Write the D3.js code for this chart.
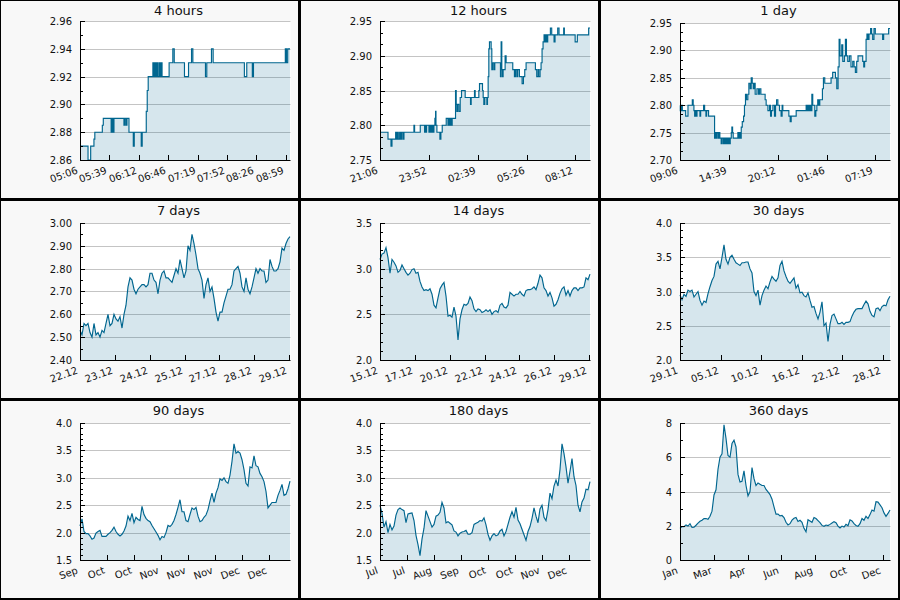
<!DOCTYPE html>
<html>
<head>
<meta charset="utf-8">
<script src="https://cdn.jsdelivr.net/npm/d3@7"></script>
<style>
body { margin: 0; background: #fff; }
svg { display: block; font-family: "DejaVu Sans", sans-serif; }
</style>
</head>
<body>
<svg id="chart" width="900" height="600"></svg>
<script>

// ---- data ----
// step series: change points, time in minutes from the window start
var hours4Times = [0, 9.1, 12.1, 15.8, 16.8, 25.3, 26.4, 35.3, 36.2, 37.5, 38.5, 49.8, 50.9, 52.3, 53.2, 55.5,
	60.4, 61.5, 69.4, 70.5, 75.1, 76.2, 77.3, 82.6, 83.8, 84.9, 86.2, 86.9, 88.1, 89.6, 90.7, 91.8, 93,
	101, 105.2, 106.8, 118.4, 123, 126.4, 127.9, 142.2, 143.7, 149, 150.9, 186.3, 189, 195.3, 196.6,
	232.7, 234, 235.4, 238];
var hours4Values = [2.87, 2.86, 2.87, 2.875, 2.88, 2.885, 2.89, 2.88, 2.89, 2.88, 2.89, 2.885, 2.89, 2.885, 2.89, 2.88,
	2.87, 2.88, 2.87, 2.88, 2.895, 2.91, 2.92, 2.93, 2.92, 2.93, 2.92, 2.93, 2.92, 2.93, 2.92, 2.93, 2.92,
	2.93, 2.94, 2.93, 2.92, 2.93, 2.94, 2.93, 2.92, 2.93, 2.94, 2.93, 2.92, 2.93, 2.92, 2.93,
	2.94, 2.93, 2.94, 2.94];
var hours4Labels = ["05:06", "05:39", "06:12", "06:46", "07:19", "07:52", "08:26", "08:59"];

var hours12Times = [0, 27.3, 37.5, 40.9, 53.4, 55.6, 59, 62.5, 67, 70.4, 73.8, 78.4, 81.8, 115.8, 118.1,
	137.4, 152.2, 154.5, 156.7, 159, 167, 169, 171, 174, 176, 179, 181, 184, 187.4, 189.7, 191, 194.2,
	204.4, 207.8, 212.4, 226, 232, 235, 238, 241, 244, 246.4, 257.8, 260.1, 262.3, 264.6, 269.2, 273.7,
	278.2, 290.7, 308.9, 311.2, 322.5, 324.8, 337.3, 339.6, 349.8, 352.1, 354.3, 357.7, 364.6, 366.8,
	369.1, 371.4, 373.6, 379.3, 381.6, 383.9, 388.4, 391.8, 411.1, 413.4, 415.7, 418, 420.2, 427, 430.4,
	453.1, 458.8, 462.2, 466.8, 470.2, 475.9, 485, 489.5, 494, 498.6, 530.4, 534.9, 539.5, 541.7, 546.3,
	549.7, 553.1, 556.5, 559.9, 563, 566, 569, 572.4, 581.5, 586, 594, 597.4, 606.5, 611, 626.9, 629.2,
	666, 673.5, 712.1, 716.7];
var hours12Values = [2.79, 2.78, 2.77, 2.78, 2.79, 2.78, 2.79, 2.78, 2.79, 2.78, 2.79, 2.78, 2.79, 2.80, 2.79,
	2.80, 2.79, 2.80, 2.79, 2.80, 2.79, 2.80, 2.79, 2.80, 2.79, 2.80, 2.79, 2.80, 2.81, 2.82, 2.80, 2.79,
	2.78, 2.79, 2.80, 2.81, 2.80, 2.81, 2.80, 2.81, 2.80, 2.81, 2.85, 2.83, 2.82, 2.83, 2.82, 2.84,
	2.85, 2.84, 2.83, 2.84, 2.85, 2.84, 2.85, 2.86, 2.85, 2.84, 2.83, 2.84, 2.83, 2.84,
	2.87, 2.91, 2.92, 2.91, 2.88, 2.89, 2.88, 2.89, 2.87, 2.92, 2.88, 2.87, 2.88, 2.90, 2.89,
	2.88, 2.87, 2.88, 2.87, 2.88, 2.87, 2.86, 2.87, 2.88, 2.89, 2.88, 2.87, 2.88, 2.87, 2.88,
	2.89, 2.91, 2.92, 2.93, 2.92, 2.93, 2.92, 2.93, 2.94, 2.93, 2.92, 2.93, 2.94, 2.93, 2.94, 2.93,
	2.92, 2.93, 2.94, 2.94];
var hours12Labels = ["21:06", "23:52", "02:39", "05:26", "08:12"];

var day1Times = [0, 2, 5, 8, 11, 16, 38.6, 54.5, 84, 90, 95, 100, 104, 109, 116, 136, 141, 161, 168, 177, 182, 195,
	236, 240, 247, 252, 261, 268, 272, 281, 286, 295, 302, 309, 316, 323, 330, 336, 343, 350, 354, 359, 363,
	395, 400, 405, 410, 418, 425, 434, 440, 447, 454, 463, 470, 479, 486, 493, 500, 506, 513, 525, 536, 543,
	552, 581, 588, 600, 611, 618, 624, 634, 645, 652, 659, 668, 679, 690, 697, 702, 743, 752, 759, 793,
	861, 866, 872, 879, 886, 893, 900, 906, 920, 927, 934, 940, 947, 954, 972, 979, 988, 1031, 1042, 1061,
	1070, 1079, 1086, 1092, 1104, 1111, 1122, 1129, 1136, 1145, 1156, 1167, 1179, 1188, 1197, 1206, 1215,
	1247, 1254, 1260, 1270, 1276, 1283, 1290, 1301, 1308, 1315, 1324, 1333, 1383, 1390, 1424, 1433.3];
var day1Values = [2.80, 2.79, 2.80, 2.79, 2.80, 2.79, 2.78, 2.80, 2.81, 2.80, 2.79, 2.78, 2.79, 2.78, 2.79, 2.78, 2.79, 2.80, 2.79, 2.78, 2.79, 2.78,
	2.74, 2.75, 2.74, 2.75, 2.74, 2.75, 2.74, 2.73, 2.74, 2.73, 2.74, 2.73, 2.74, 2.73, 2.74, 2.73, 2.74, 2.75, 2.76, 2.75, 2.74,
	2.75, 2.74, 2.75, 2.74, 2.76, 2.77, 2.78, 2.80, 2.82, 2.81, 2.82, 2.84, 2.83, 2.85, 2.84, 2.83, 2.84, 2.82, 2.83, 2.82, 2.83,
	2.82, 2.81, 2.80, 2.79, 2.80, 2.78, 2.79, 2.80, 2.78, 2.80, 2.81, 2.80, 2.79, 2.78, 2.80, 2.79, 2.78, 2.77, 2.78, 2.79,
	2.80, 2.79, 2.80, 2.79, 2.80, 2.79, 2.82, 2.80, 2.78, 2.79, 2.80, 2.81, 2.80, 2.81, 2.83, 2.85, 2.84, 2.85, 2.86, 2.85,
	2.83, 2.87, 2.92, 2.89, 2.91, 2.88, 2.89, 2.92, 2.89, 2.88, 2.89, 2.87, 2.88, 2.87, 2.86, 2.88, 2.89,
	2.88, 2.87, 2.88, 2.92, 2.93, 2.92, 2.93, 2.94, 2.93, 2.92, 2.94, 2.93, 2.92, 2.93, 2.94, 2.94];
var day1Labels = ["09:06", "14:39", "20:12", "01:46", "07:19"];

// evenly spaced series
var days7Values = [2.53, 2.51, 2.56, 2.55, 2.56, 2.52, 2.50, 2.56, 2.51, 2.52, 2.50, 2.53, 2.52, 2.56, 2.60, 2.55,
	2.56, 2.60, 2.58, 2.57, 2.59, 2.54, 2.60, 2.64, 2.72, 2.76, 2.75, 2.71, 2.69, 2.71, 2.72, 2.73,
	2.73, 2.72, 2.73, 2.78, 2.78, 2.75, 2.74, 2.69, 2.75, 2.78, 2.79, 2.76, 2.76, 2.75, 2.74, 2.77,
	2.80, 2.78, 2.84, 2.80, 2.76, 2.79, 2.90, 2.88, 2.95, 2.91, 2.86, 2.80, 2.78, 2.75, 2.67, 2.73,
	2.76, 2.70, 2.72, 2.67, 2.61, 2.57, 2.61, 2.61, 2.65, 2.68, 2.71, 2.71, 2.73, 2.79, 2.80, 2.81,
	2.78, 2.72, 2.70, 2.76, 2.71, 2.69, 2.72, 2.76, 2.80, 2.78, 2.80, 2.79, 2.79, 2.74, 2.75, 2.84,
	2.81, 2.79, 2.79, 2.80, 2.83, 2.89, 2.88, 2.91, 2.93, 2.94];
var days7Labels = ["22.12", "23.12", "24.12", "25.12", "27.12", "28.12", "29.12"];

var days14Values = [3.10, 3.16, 3.17, 3.23, 3.12, 2.95, 3.10, 3.07, 3.03, 2.96, 2.98, 3.04, 3.00, 2.96, 2.93, 2.95,
	2.99, 3.00, 2.95, 2.96, 2.86, 2.80, 2.76, 2.77, 2.76, 2.78, 2.72, 2.60, 2.57, 2.68, 2.78, 2.82,
	2.85, 2.70, 2.48, 2.49, 2.47, 2.58, 2.48, 2.22, 2.45, 2.55, 2.61, 2.60, 2.62, 2.69, 2.65, 2.56,
	2.53, 2.56, 2.55, 2.52, 2.53, 2.55, 2.53, 2.55, 2.50, 2.53, 2.54, 2.52, 2.60, 2.62, 2.58, 2.57,
	2.60, 2.74, 2.72, 2.70, 2.72, 2.72, 2.75, 2.72, 2.70, 2.76, 2.77, 2.77, 2.78, 2.80, 2.77, 2.84,
	2.93, 2.90, 2.79, 2.76, 2.70, 2.74, 2.68, 2.59, 2.61, 2.66, 2.73, 2.78, 2.80, 2.71, 2.76, 2.70,
	2.76, 2.79, 2.79, 2.76, 2.79, 2.79, 2.80, 2.90, 2.88, 2.94];
var days14Labels = ["15.12", "17.12", "20.12", "22.12", "24.12", "26.12", "29.12"];

var days30Values = [2.95, 2.88, 2.96, 2.93, 3.02, 3.00, 3.02, 2.92, 2.96, 3.00, 2.87, 2.80, 2.86, 2.84, 2.97, 3.07,
	3.16, 3.22, 3.40, 3.44, 3.33, 3.50, 3.68, 3.47, 3.40, 3.50, 3.53, 3.47, 3.42, 3.40, 3.38, 3.42,
	3.42, 3.43, 3.43, 3.33, 3.27, 3.00, 2.94, 3.02, 2.80, 2.94, 3.02, 3.08, 3.04, 3.14, 3.22, 3.18,
	3.15, 3.20, 3.38, 3.44, 3.30, 3.22, 3.15, 3.12, 3.16, 3.20, 3.05, 3.10, 2.98, 2.99, 2.94, 2.92,
	2.98, 2.87, 2.77, 2.78, 2.68, 2.60, 2.70, 2.85, 2.50, 2.54, 2.27, 2.52, 2.65, 2.67, 2.60, 2.53,
	2.53, 2.55, 2.52, 2.55, 2.55, 2.56, 2.64, 2.70, 2.74, 2.75, 2.75, 2.75, 2.81, 2.86, 2.82, 2.71,
	2.65, 2.63, 2.75, 2.76, 2.72, 2.78, 2.80, 2.79, 2.88, 2.93];
var days30Labels = ["29.11", "05.12", "10.12", "16.12", "22.12", "28.12"];

var days90Values = [2.12, 2.25, 2.02, 1.98, 1.98, 1.94, 1.88, 1.90, 1.99, 2.02, 2.04, 1.93, 1.93, 1.93, 1.97, 2.00,
	2.04, 2.10, 2.02, 1.97, 1.94, 1.97, 2.03, 2.12, 2.30, 2.22, 2.35, 2.18, 2.28, 2.24, 2.22, 2.48,
	2.33, 2.26, 2.22, 2.20, 2.13, 2.07, 2.01, 1.95, 1.87, 1.93, 1.91, 2.00, 2.13, 2.11, 2.15, 2.22,
	2.33, 2.46, 2.60, 2.38, 2.38, 2.22, 2.20, 2.33, 2.45, 2.42, 2.46, 2.30, 2.20, 2.22, 2.28, 2.32,
	2.42, 2.58, 2.72, 2.55, 2.72, 2.82, 2.98, 2.95, 3.00, 2.93, 2.90, 3.05, 3.30, 3.62, 3.45, 3.48,
	3.45, 3.33, 3.15, 2.90, 2.85, 3.20, 3.18, 3.40, 3.22, 3.20, 3.08, 3.02, 2.93, 2.75, 2.45, 2.50,
	2.55, 2.55, 2.55, 2.68, 2.77, 2.88, 2.68, 2.70, 2.80, 2.94];
var days90Labels = ["Sep", "Oct", "Oct", "Nov", "Nov", "Nov", "Dec", "Dec"];

var days180Values = [2.50, 2.35, 2.10, 2.20, 2.00, 2.15, 2.05, 2.12, 2.32, 2.42, 2.45, 2.42, 2.40, 2.18, 2.34, 2.35,
	2.36, 2.22, 1.95, 1.78, 1.58, 1.88, 2.08, 2.40, 2.30, 2.20, 2.10, 2.15, 2.30, 2.32, 2.37, 2.55,
	2.45, 2.18, 2.20, 2.17, 2.14, 2.03, 2.01, 1.94, 1.99, 2.01, 2.02, 2.04, 1.97, 1.97, 2.00, 2.15,
	2.17, 2.19, 2.22, 2.21, 2.27, 2.14, 1.97, 1.86, 1.94, 1.98, 1.94, 1.96, 2.03, 2.06, 1.94, 2.02,
	2.15, 2.28, 2.38, 2.28, 2.46, 2.23, 2.16, 2.06, 1.96, 1.86, 2.02, 2.11, 2.26, 2.45, 2.30, 2.18,
	2.43, 2.50, 2.28, 2.22, 2.42, 2.72, 2.62, 2.85, 2.96, 2.85, 3.15, 3.62, 3.44, 3.20, 2.90, 3.12,
	3.35, 3.02, 2.86, 2.50, 2.38, 2.56, 2.63, 2.79, 2.78, 2.93];
var days180Labels = ["Jul", "Jul", "Aug", "Sep", "Oct", "Oct", "Nov", "Dec"];

var days360Values = [1.85, 1.95, 1.95, 2.05, 1.98, 2.12, 1.90, 1.92, 2.03, 2.15, 2.26, 2.32, 2.42, 2.42, 2.38, 2.55,
	2.85, 3.80, 4.10, 5.30, 6.00, 6.20, 7.90, 7.10, 6.10, 6.00, 6.80, 7.00, 6.60, 5.00, 4.55, 4.60,
	5.20, 4.35, 3.75, 4.00, 5.40, 4.75, 4.35, 4.50, 4.42, 4.35, 4.35, 4.12, 3.98, 3.82, 3.55, 3.10,
	2.68, 2.68, 2.58, 2.60, 2.48, 2.20, 2.05, 2.12, 2.33, 2.44, 2.48, 2.25, 2.32, 2.20, 1.85, 1.65,
	2.35, 2.28, 2.20, 2.48, 2.42, 2.30, 2.18, 2.02, 1.97, 2.04, 2.01, 2.08, 2.16, 2.24, 2.18, 1.98,
	1.87, 1.98, 1.92, 2.08, 2.00, 2.35, 2.28, 2.12, 2.02, 1.97, 2.12, 2.42, 2.32, 2.55, 2.42, 2.65,
	2.92, 2.85, 3.40, 3.38, 3.22, 3.05, 2.75, 2.55, 2.72, 2.92];
var days360Labels = ["Jan", "Mar", "Apr", "Jun", "Aug", "Oct", "Dec"];

// ---- layout ----
var W = 300, H = 200, PLOT_W = 210, BOTTOM = 160;
var lineColor = "#00668f";
var svg = d3.select("#chart");

var panels = [
	{title: "4 hours", times: hours4Times, values: hours4Values, labels: hours4Labels, span: 238, tick: 2000 / 60,
		y: [2.86, 2.96], yStep: 0.02, minorN: 2, fmt: ".2f", top: 21, step: true},
	{title: "12 hours", times: hours12Times, values: hours12Values, labels: hours12Labels, span: 716.7, tick: 10000 / 60,
		y: [2.75, 2.95], yStep: 0.05, minorN: 3, fmt: ".2f", top: 21, step: true},
	{title: "1 day", times: day1Times, values: day1Values, labels: day1Labels, span: 1433.3, tick: 20000 / 60,
		y: [2.70, 2.95], yStep: 0.05, minorN: 3, fmt: ".2f", top: 23, step: true},
	{title: "7 days", values: days7Values, labels: days7Labels, span: 168.8, tick: 28,
		y: [2.40, 3.00], yStep: 0.10, minorN: 2, fmt: ".2f", top: 23},
	{title: "14 days", values: days14Values, labels: days14Labels, span: 337.6, tick: 56,
		y: [2.0, 3.5], yStep: 0.5, minorN: 5, fmt: ".1f", top: 23},
	{title: "30 days", values: days30Values, labels: days30Labels, span: 30.05, tick: 5.8,
		y: [2.0, 4.0], yStep: 0.5, minorN: 5, fmt: ".1f", top: 23},
	{title: "90 days", values: days90Values, labels: days90Labels, span: 90, tick: 11.57,
		y: [1.5, 4.0], yStep: 0.5, minorN: 5, fmt: ".1f", top: 23},
	{title: "180 days", values: days180Values, labels: days180Labels, span: 180, tick: 23.14,
		y: [1.5, 4.0], yStep: 0.5, minorN: 5, fmt: ".1f", top: 23},
	{title: "360 days", values: days360Values, labels: days360Labels, span: 360, tick: 57.9,
		y: [0, 8], yStep: 2, minorN: 2, fmt: "d", top: 23}
];

function drawPanel(p, col, row)
{
	var g = svg.append("g").attr("transform", "translate(" + (col * W) + "," + (row * H) + ")");

	// frame
	g.append("rect").attr("width", W).attr("height", H).attr("fill", "#000");
	g.append("rect").attr("x", 1).attr("y", 1).attr("width", W - 3).attr("height", H - 3).attr("fill", "#f8f8f8");

	g.append("text")
		.attr("x", 178.5)
		.attr("y", 15)
		.attr("text-anchor", "middle")
		.attr("font-size", 13)
		.attr("fill", "#111")
		.text(p.title);

	var plotH = BOTTOM - p.top;
	var plot = g.append("g").attr("transform", "translate(80," + p.top + ")");

	var x = d3.scaleLinear().domain([0, p.span]).range([0, PLOT_W]);
	var y = d3.scaleLinear().domain(p.y).range([plotH, 0]);
	var xr = x.copy().interpolate(d3.interpolateRound);
	var yr = y.copy().interpolate(d3.interpolateRound);

	var n = Math.round((p.y[1] - p.y[0]) / p.yStep);
	var majors = d3.range(n + 1).map(function(k) { return +(p.y[0] + k * p.yStep).toFixed(4); });
	var minors = d3.range(n * p.minorN + 1)
		.filter(function(k) { return k % p.minorN != 0; })
		.map(function(k) { return p.y[0] + k * p.yStep / p.minorN; });

	plot.append("rect").attr("width", PLOT_W + 0.5).attr("height", plotH).attr("fill", "#fff");

	plot.append("g").selectAll("line")
		.data(majors.slice(1))
		.join("line")
			.attr("x1", 0)
			.attr("x2", PLOT_W + 0.5)
			.attr("y1", function(d) { return yr(d) + 0.5; })
			.attr("y2", function(d) { return yr(d) + 0.5; })
			.attr("stroke", "#c4c4c4");

	var pts;
	if (p.times) {
		pts = p.times.map(function(t, i) { return [t, p.values[i]]; });
	} else {
		pts = p.values.map(function(v, i) { return [i * p.span / (p.values.length - 1), v]; });
	}
	var curve = p.step ? d3.curveStepAfter : d3.curveLinear;

	plot.append("path")
		.datum(pts)
		.attr("fill", lineColor)
		.attr("fill-opacity", 0.16)
		.attr("d", d3.area()
			.x(function(d) { return x(d[0]); })
			.y0(plotH)
			.y1(function(d) { return y(d[1]); })
			.curve(curve));

	plot.append("path")
		.datum(pts)
		.attr("fill", "none")
		.attr("stroke", lineColor)
		.attr("stroke-width", 1.15)
		.attr("d", d3.line()
			.x(function(d) { return x(d[0]); })
			.y(function(d) { return y(d[1]); })
			.curve(curve));

	// axes
	var yMinor = plot.append("g")
		.call(d3.axisLeft(yr).tickValues(minors).tickSize(-3).tickSizeOuter(0).tickFormat(""));
	yMinor.select(".domain").remove();

	var yAxis = plot.append("g")
		.call(d3.axisLeft(yr).tickValues(majors).tickSize(-5).tickSizeOuter(0).tickPadding(8)
			.tickFormat(d3.format(p.fmt)));
	yAxis.attr("font-family", null).attr("font-size", 10);
	yAxis.selectAll("text").attr("fill", "#111");

	var xAxis = plot.append("g")
		.attr("transform", "translate(0," + plotH + ")")
		.call(d3.axisBottom(xr)
			.tickValues(p.labels.map(function(l, i) { return i * p.tick; }))
			.tickSize(-5)
			.tickSizeOuter(0)
			.tickFormat(function(d, i) { return p.labels[i]; }));
	xAxis.attr("font-family", null).attr("font-size", 10);
	xAxis.selectAll("text")
		.attr("y", 0)
		.attr("dy", 0)
		.attr("fill", "#111")
		.attr("text-anchor", "end")
		.attr("transform", "translate(-2,13) rotate(-20)");
}

panels.forEach(function(p, i) { drawPanel(p, i % 3, Math.floor(i / 3)); });

</script>
</body>
</html>
